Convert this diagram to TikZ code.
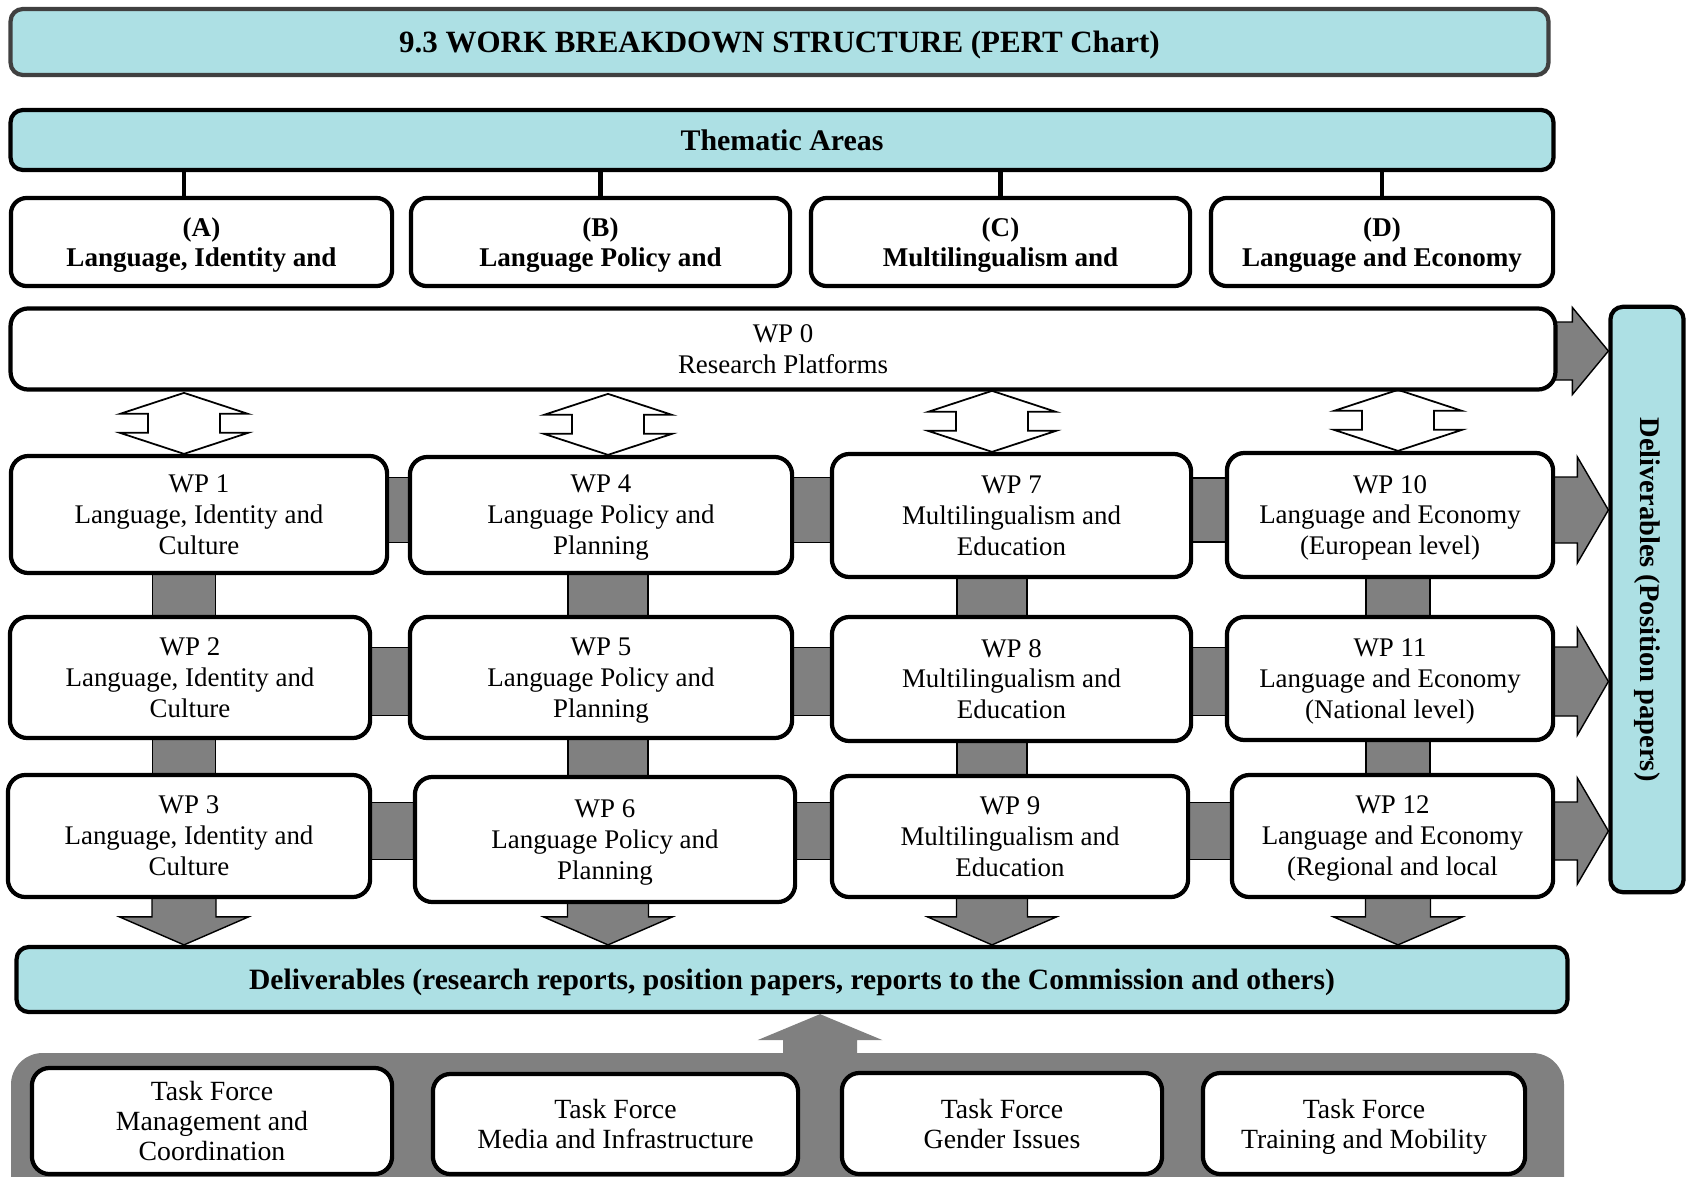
\documentclass[tikz,border=0pt]{standalone}
\usepackage{fontspec}
\setmainfont{Liberation Serif}
\usetikzlibrary{calc,backgrounds}

\definecolor{tealfill}{RGB}{173,224,228}
\definecolor{bargray}{RGB}{128,128,128}
\definecolor{titleline}{RGB}{64,64,64}

\tikzset{
  headbox/.style={draw=black, line width=1.2pt, fill=tealfill, rounded corners=3.5pt, inner sep=0pt, align=center, text depth=0pt},
  areabox/.style={draw=black, line width=1.2pt, fill=white, rounded corners=4.5pt, inner sep=0pt, align=center, text depth=0pt, font=\bfseries\fontsize{7.7}{8.6}\selectfont},
  wpbox/.style={draw=black, line width=1.2pt, fill=white, rounded corners=5pt, inner sep=0pt, align=center, text depth=0pt, font=\fontsize{7.65}{8.8}\selectfont},
  tfbox/.style={wpbox, font=\fontsize{7.9}{8.6}\selectfont},
  wpbar/.style={draw=black, line width=0.5pt, double=bargray, double distance=#1},
  blockarrow/.style={draw=black, line width=0.4pt, fill=bargray},
  openarrow/.style={draw=black, line width=0.5pt, fill=white},
}

\begin{document}
\begin{tikzpicture}[x=0.01cm, y=-0.01cm]
        \useasboundingbox (0,0) rectangle (1686,1176);
        \clip (0,0) rectangle (1686,1176);

        % columns and rows of the bars
        \coordinate (colA) at (184,0);
        \coordinate (colB) at (608,0);
        \coordinate (colC) at (992,0);
        \coordinate (colD) at (1398,0);
        \coordinate (r0) at (0,351);
        \coordinate (r1) at (0,510);
        \coordinate (r2) at (0,681.5);
        \coordinate (r3) at (0,831);

        % Header.
        \node[headbox, draw=titleline, minimum width=15.37cm, minimum height=0.66cm, font=\bfseries\fontsize{8.8}{10}\selectfont] (title) at (779.5,42) {9.3 WORK BREAKDOWN STRUCTURE (PERT Chart)};
        \node[headbox, minimum width=15.42cm, minimum height=0.60cm, font=\bfseries\fontsize{8.5}{10}\selectfont] (thematic) at (782,140) {Thematic Areas};

        % Thematic areas.
        \node[areabox, minimum width=3.81cm, minimum height=0.88cm] (tA) at (201.5,242) {(A)\\Language, Identity and};
        \node[areabox, minimum width=3.79cm, minimum height=0.88cm] (tB) at (600.5,242) {(B)\\Language Policy and};
        \node[areabox, minimum width=3.79cm, minimum height=0.88cm] (tC) at (1000.5,242) {(C)\\Multilingualism and};
        \node[areabox, minimum width=3.42cm, minimum height=0.88cm] (tD) at (1382,242) {(D)\\Language and Economy};
        \foreach \t/\c in {tA/colA, tB/tB, tC/tC, tD/tD}
          \draw[line width=1.2pt] (thematic.south -| \c) -- (\t.north -| \c);

        % WP 0 and deliverables column.
        \node[wpbox, minimum width=15.44cm, minimum height=0.81cm] (wp0) at (783,349) {WP 0\\Research Platforms};
        \node[headbox, text depth={}, minimum width=0.73cm, minimum height=5.85cm, font=\bfseries\fontsize{8.1}{10}\selectfont] (dv) at (1647,599.5) {\rotatebox{-90}{Deliverables (Position papers)}};

        % Work packages.
        \node[wpbox, minimum width=3.76cm, minimum height=1.17cm] (wp1) at (199,514.5) {WP 1\\Language, Identity and\\Culture};
        \node[wpbox, minimum width=3.82cm, minimum height=1.16cm] (wp4) at (601,515) {WP 4\\Language Policy and\\Planning};
        \node[wpbox, minimum width=3.59cm, minimum height=1.23cm] (wp7) at (1011.5,515.5) {WP 7\\Multilingualism and\\Education};
        \node[wpbox, minimum width=3.26cm, minimum height=1.24cm] (wp10) at (1390,515) {WP 10\\Language and Economy\\(European level)};

        \node[wpbox, minimum width=3.60cm, minimum height=1.21cm] (wp2) at (190,677.5) {WP 2\\Language, Identity and\\Culture};
        \node[wpbox, minimum width=3.82cm, minimum height=1.21cm] (wp5) at (601,677.5) {WP 5\\Language Policy and\\Planning};
        \node[wpbox, minimum width=3.59cm, minimum height=1.24cm] (wp8) at (1011.5,679) {WP 8\\Multilingualism and\\Education};
        \node[wpbox, minimum width=3.26cm, minimum height=1.23cm] (wp11) at (1390,678.5) {WP 11\\Language and Economy\\(National level)};

        \node[wpbox, minimum width=3.62cm, minimum height=1.22cm] (wp3) at (189,836) {WP 3\\Language, Identity and\\Culture};
        \node[wpbox, minimum width=3.80cm, minimum height=1.25cm] (wp6) at (605,839.5) {WP 6\\Language Policy and\\Planning};
        \node[wpbox, minimum width=3.56cm, minimum height=1.21cm] (wp9) at (1010,836.5) {WP 9\\Multilingualism and\\Education};
        \node[wpbox, minimum width=3.21cm, minimum height=1.22cm] (wp12) at (1392.5,836) {WP 12\\Language and Economy\\(Regional and local};

        % Deliverables.
        \node[headbox, minimum width=15.50cm, minimum height=0.65cm, font=\bfseries\fontsize{8.4}{10}\selectfont] (deliv) at (792,979.5) {Deliverables (research reports, position papers, reports to the Commission and others)};

        % Task forces.
        \fill[bargray, rounded corners=9pt] (11,1053) rectangle (1564,1240);
        \node[tfbox, minimum width=3.60cm, minimum height=1.06cm] (tf1) at (212,1121) {Task Force\\Management and\\Coordination};
        \node[tfbox, minimum width=3.65cm, minimum height=1.00cm] (tf2) at (615.5,1124) {Task Force\\Media and Infrastructure};
        \node[tfbox, minimum width=3.20cm, minimum height=1.01cm] (tf3) at (1002,1123.5) {Task Force\\Gender Issues};
        \node[tfbox, minimum width=3.22cm, minimum height=1.01cm] (tf4) at (1364,1123.5) {Task Force\\Training and Mobility};
        \coordinate (tfmid) at ($(tf2.east)!0.5!(tf3.west)$);

        \begin{scope}[on background layer]
          % bars
          \foreach \a/\b/\r/\w in {wp1/wp4/r1/0.63cm, wp4/wp7/r1/0.63cm, wp7/wp10/r1/0.62cm,
                                   wp2/wp5/r2/0.66cm, wp5/wp8/r2/0.66cm, wp8/wp11/r2/0.66cm,
                                   wp3/wp6/r3/0.55cm, wp6/wp9/r3/0.55cm, wp9/wp12/r3/0.55cm}
            \draw[wpbar=\w] (\a |- \r) -- (\b |- \r);
          \foreach \a/\b/\c/\w in {wp1/wp2/colA/0.61cm, wp2/wp3/colA/0.61cm,
                                   wp4/wp5/colB/0.78cm, wp5/wp6/colB/0.78cm,
                                   wp7/wp8/colC/0.68cm, wp8/wp9/colC/0.68cm,
                                   wp10/wp11/colD/0.62cm, wp11/wp12/colD/0.62cm}
            \draw[wpbar=\w] (\a -| \c) -- (\b -| \c);

          % arrows to the deliverables column
          \foreach \r/\h/\s/\l in {r0/43.5/29/36, r1/53/33/31, r2/53.5/34.5/31, r3/53/29/31}
            \filldraw[blockarrow] (dv.west |- \r) -- ++(-\l,-\h) -- ++(0,\h-\s) -- ++(-45,0) -- ++(0,2*\s) -- ++(45,0) -- ++(0,\h-\s) -- cycle;

          % arrows down to the deliverables
          \foreach \c/\s in {colA/32, colB/40.5, colC/35.5, colD/32.5}
            \filldraw[blockarrow] (deliv.north -| \c) -- ++(-64.5,-28) -- ++(64.5-\s,0) -- ++(0,-45) -- ++(2*\s,0) -- ++(0,45) -- ++(64.5-\s,0) -- cycle;

          % WP 0 <-> first row
          \foreach \n/\c in {wp1/colA, wp4/colB, wp7/colC, wp10/colD}
            \filldraw[openarrow] (\n.north -| \c) -- ++(-64,-21) -- ++(28,0) -- ++(0,-19) -- ++(-28,0) -- ++(64,-21) -- ++(64,21) -- ++(-28,0) -- ++(0,19) -- ++(28,0) -- cycle;

          % task forces up to the deliverables
          \fill[bargray] (tfmid |- deliv.south) -- ++(62.5,26) -- ++(-25.5,0) -- ++(0,30) -- ++(-74,0) -- ++(0,-30) -- ++(-25.5,0) -- cycle;
        \end{scope}

    \end{tikzpicture}
\end{document}
